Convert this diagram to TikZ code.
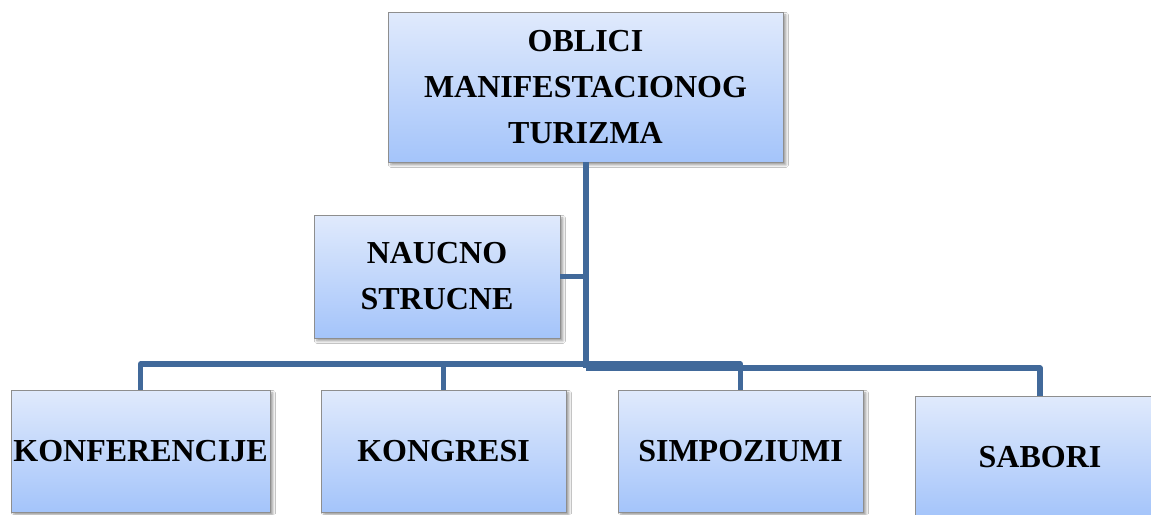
\documentclass[tikz,border=0pt]{standalone}
\usepackage{fontspec}
\setmainfont{Liberation Serif}
\usetikzlibrary{shadows.blur}
\definecolor{conncol}{HTML}{41699A}
\definecolor{boxtop}{HTML}{E0EAFC}
\definecolor{boxbot}{HTML}{A4C4FA}
\definecolor{boxline}{HTML}{8E8E8E}
\tikzset{
  catbox/.style={draw=boxline, line width=0.6pt, top color=boxtop, bottom color=boxbot,
    blur shadow={shadow xshift=2.2pt, shadow yshift=-2.2pt, shadow blur steps=6, shadow opacity=40},
    align=center, inner sep=0pt, font=\fontsize{24}{34.5}\selectfont\bfseries},
  conn/.style={draw=conncol, line width=3.8pt, line join=round}
}
\begin{document}
\begin{tikzpicture}[x=0.75pt,y=-0.75pt]
\useasboundingbox (0,0) rectangle (1151,514);
\clip (0,0) rectangle (1151,514);
\fill[white] (0,0) rectangle (1151,514);
\coordinate (j) at (586,368);
\coordinate (hl) at (0,364);
\node[catbox, minimum width=296.25pt, minimum height=112.5pt] (top) at (585.5,87) {OBLICI\\MANIFESTACIONOG\\TURIZMA};
\node[catbox, minimum width=184.5pt, minimum height=92.25pt] (nauc) at (437,276.5) {NAUCNO\\STRUCNE};
\node[catbox, minimum width=194.25pt, minimum height=91.5pt] (konf) at (140.5,451) {KONFERENCIJE};
\node[catbox, minimum width=183.75pt, minimum height=91.5pt] (kong) at (443.5,451) {KONGRESI};
\node[catbox, minimum width=183.75pt, minimum height=91.5pt] (simp) at (740.5,451) {SIMPOZIUMI};
\node[catbox, minimum width=187.5pt, minimum height=91.5pt] (sab) at (1040,457) {SABORI};
\draw[conn] (top.south -| j) -- (j);
\draw[conn] (nauc.east) -- (nauc.east -| j);
\draw[conn] (konf.north) -- (konf.north |- hl) -- (simp.north |- hl) -- (simp.north);
\draw[conn] (kong.north) -- (kong.north |- hl);
\draw[conn] (j) -- (sab.north |- j) -- (sab.north);
\end{tikzpicture}
\end{document}
